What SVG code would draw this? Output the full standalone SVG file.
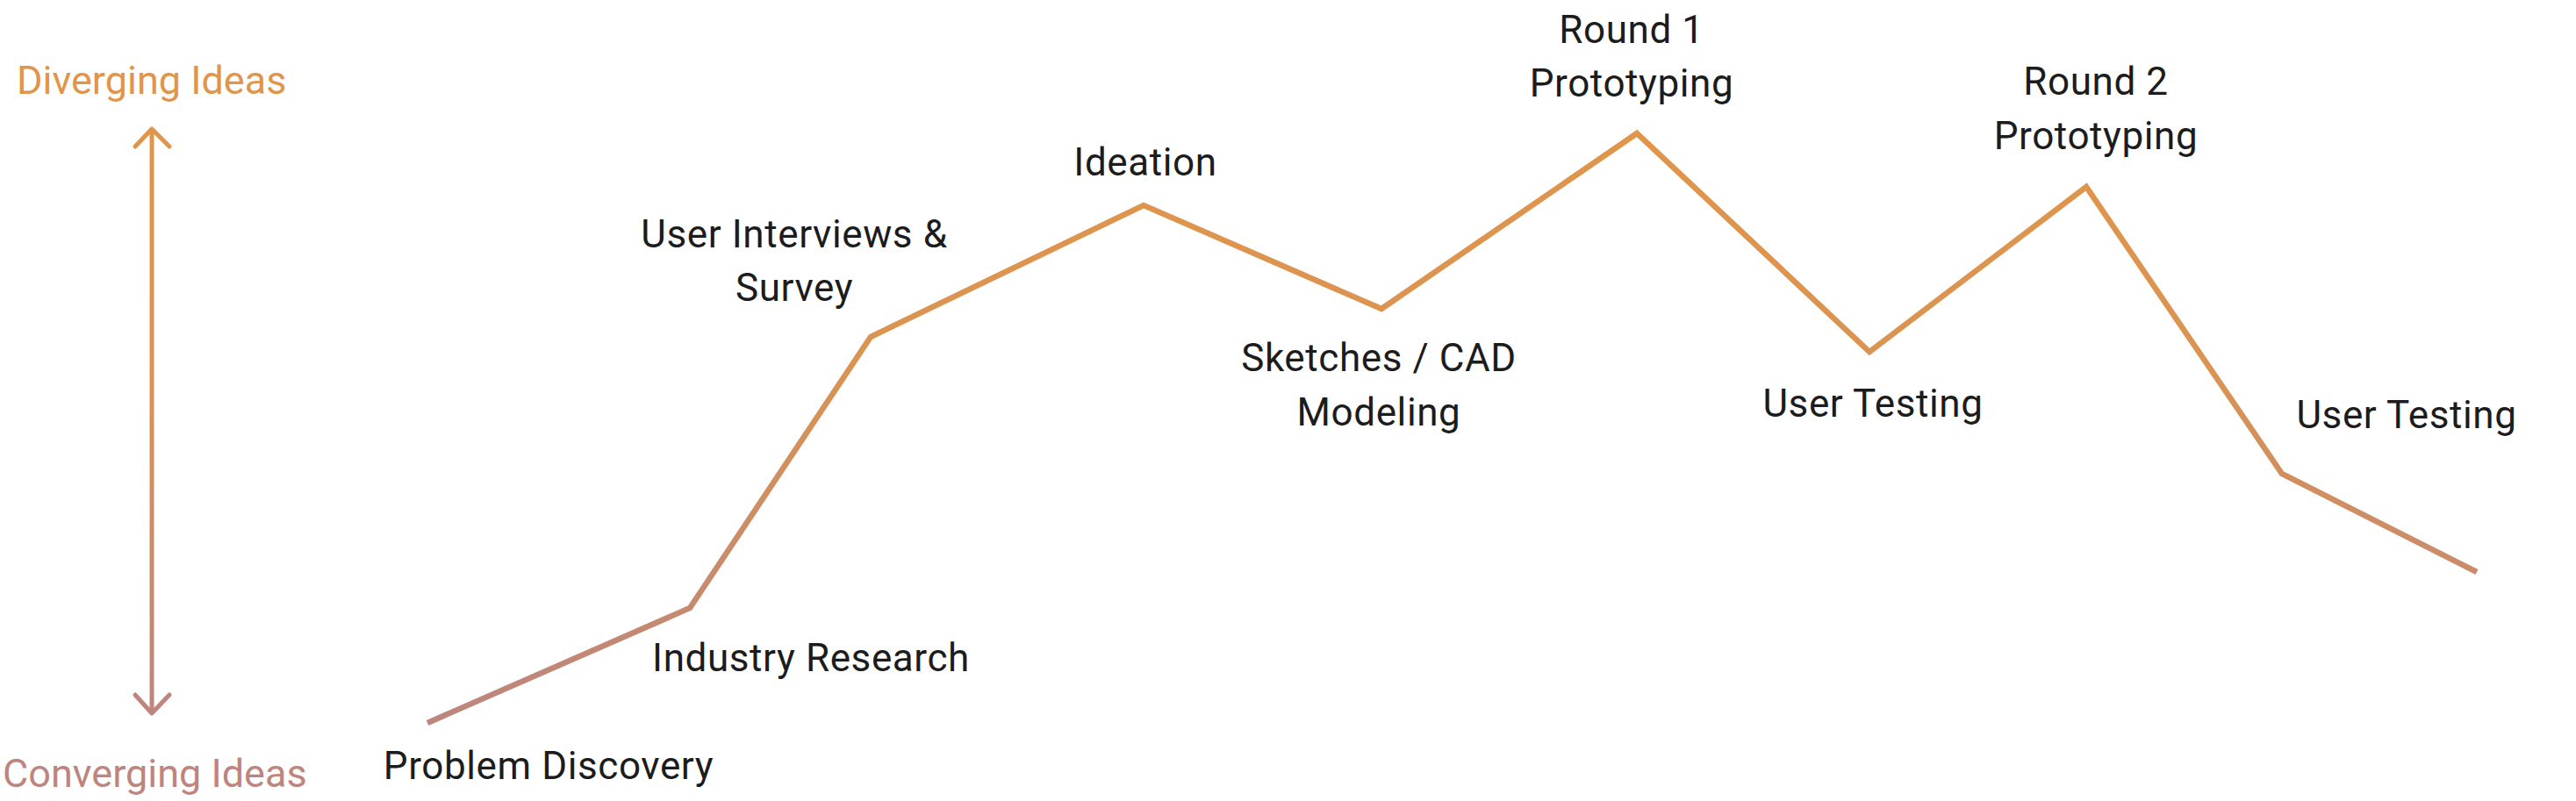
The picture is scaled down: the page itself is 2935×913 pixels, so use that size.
<svg xmlns="http://www.w3.org/2000/svg" width="2935" height="913" viewBox="0 0 2935 913">
<defs>
<linearGradient id="g" gradientUnits="userSpaceOnUse" x1="0" y1="150" x2="0" y2="830">
<stop offset="0" stop-color="#E0954A"/>
<stop offset="0.4" stop-color="#DA9352"/>
<stop offset="1" stop-color="#BC857F"/>
</linearGradient>
</defs>
<style>
.lbl{font-family:Roboto,"Liberation Sans",sans-serif;font-size:44px;letter-spacing:0.6px;fill:#1c1c1c;text-anchor:middle}
.ax{font-family:Roboto,"Liberation Sans",sans-serif;font-size:45px}
.ln{fill:none;stroke:url(#g);stroke-width:6.5;stroke-linejoin:miter}
.arr{fill:none;stroke:url(#g);stroke-width:5;stroke-linecap:round;stroke-linejoin:round}
</style>
<rect width="2935" height="913" fill="#ffffff"/>
<g id="axis">
<text class="ax" x="19" y="107" fill="#E0954A">Diverging Ideas</text>
<text class="ax" x="3" y="897" fill="#BE847E">Converging Ideas</text>
<line class="arr" x1="173" y1="149" x2="173" y2="811"/>
<polyline class="arr" points="154,167 173,147 193,167"/>
<polyline class="arr" points="154,792 173,813 193,792"/>
</g>
<g id="connectors">
<polyline class="ln" points="487,824 786,693 992,384 1303,234 1574,352 1865,152 2130,401 2377,213 2600,540 2822,652"/>
</g>
<g id="n-problem"><text class="lbl" x="625" y="888">Problem Discovery</text></g>
<g id="n-industry"><text class="lbl" x="924" y="765">Industry Research</text></g>
<g id="n-interviews"><text class="lbl" x="905" y="282">User Interviews &amp;</text><text class="lbl" x="905" y="343">Survey</text></g>
<g id="n-ideation"><text class="lbl" x="1305" y="200">Ideation</text></g>
<g id="n-sketches"><text class="lbl" x="1571" y="423">Sketches / CAD</text><text class="lbl" x="1571" y="485">Modeling</text></g>
<g id="n-round1"><text class="lbl" x="1859" y="49">Round 1</text><text class="lbl" x="1859" y="110">Prototyping</text></g>
<g id="n-test1"><text class="lbl" x="2134" y="475">User Testing</text></g>
<g id="n-round2"><text class="lbl" x="2388" y="108">Round 2</text><text class="lbl" x="2388" y="170">Prototyping</text></g>
<g id="n-test2"><text class="lbl" x="2742" y="488">User Testing</text></g>
</svg>
